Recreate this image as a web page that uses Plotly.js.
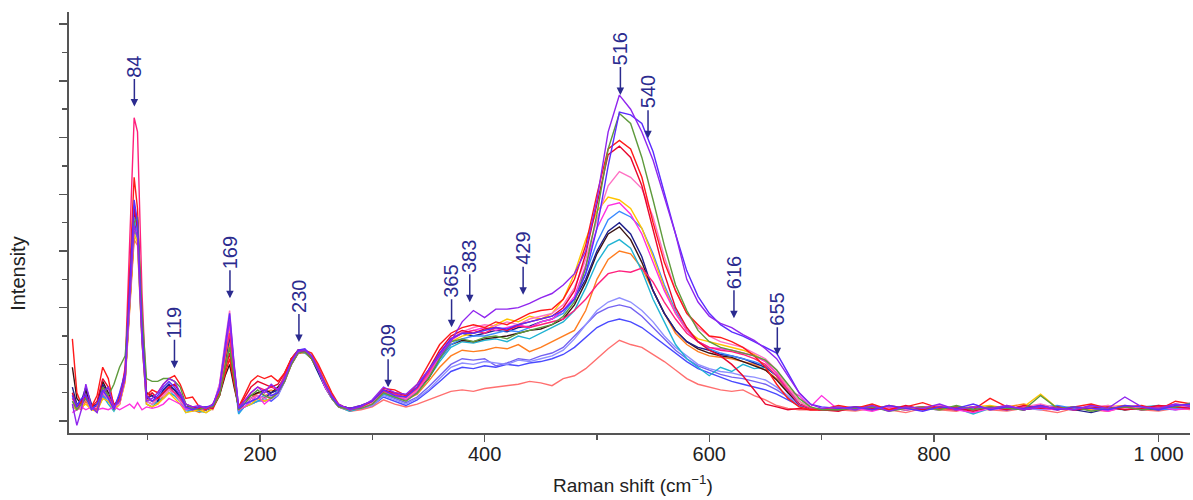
<!DOCTYPE html>
<html>
<head>
<meta charset="utf-8">
<script src="https://cdn.plot.ly/plotly-3.0.1.min.js"></script>
<style>html,body{margin:0;padding:0;background:#fff;}#chart{width:1193px;height:500px;}</style>
</head>
<body>
<div id="chart"></div>
<script>
// Raman shift grid (cm-1)
const ramanShift = [
 33,37,41,45,50,55,60,65,70,75,
 80,84,88,91,95,99,104,109,114,119,
 124,129,134,140,146,152,158,164,169,173,
 177,181,186,192,198,204,210,216,222,228,
 234,240,246,252,258,264,270,
 280,290,300,310,320,330,340,350,360,370,380,390,400,410,420,430,440,450,460,470,480,490,500,510,520,530,540,550,560,570,580,590,600,610,620,630,640,650,660,670,680,690,700,
 715,730,745,760,775,790,805,820,835,850,865,880,895,910,925,940,955,970,985,1000,1015,1030
];

// Intensities (arbitrary units), one array per spectrum
const salmon = [
 0.6,0.4,0.5,0.7,0.4,0.45,0.9,0.8,0.4,0.6,
 1.4,4.0,6.4,6.2,2.8,0.6,0.5,0.7,0.8,1.0,
 0.9,0.7,0.5,0.45,0.4,0.45,0.4,1.0,2.1,2.8,
 1.6,0.4,0.6,0.8,1.0,0.9,1.0,1.1,1.5,2.1,
 2.4,2.45,2.2,1.8,1.3,0.85,0.5,
 0.35,0.4,0.5,0.75,0.6,0.5,0.6,0.75,0.9,1.05,1.1,1.05,1.15,1.2,1.25,1.3,1.4,1.35,1.25,1.5,1.6,1.85,2.2,2.55,2.85,2.7,2.6,2.35,2.1,1.8,1.5,1.3,1.2,1.1,1.05,1.1,0.9,0.75,0.55,0.45,0.4,0.4,0.4,
 0.4,0.35,0.45,0.4,0.3,0.45,0.4,0.35,0.5,0.4,0.35,0.45,0.4,0.3,0.45,0.4,0.35,0.5,0.4,0.35,0.45,0.4
];
const royalBlue = [
 0.9,0.5,0.6,1.1,0.5,0.4,1.1,0.8,0.45,0.7,
 1.6,4.7,7.3,6.9,3.1,0.8,0.7,0.8,1.1,1.3,
 1.1,0.9,0.45,0.4,0.4,0.45,0.5,1.2,2.5,3.3,
 1.7,0.35,0.5,0.6,0.7,0.8,0.7,0.9,1.4,2.1,
 2.45,2.5,2.3,1.8,1.2,0.8,0.5,
 0.4,0.45,0.55,0.85,0.7,0.55,0.75,1.05,1.4,1.75,1.9,1.85,1.95,1.9,2.0,1.95,2.05,2.1,2.2,2.35,2.6,2.95,3.3,3.5,3.6,3.5,3.3,3.0,2.7,2.4,2.1,1.85,1.7,1.55,1.4,1.3,1.2,1.1,0.95,0.75,0.55,0.45,0.4,
 0.4,0.5,0.45,0.4,0.5,0.45,0.4,0.45,0.5,0.4,0.45,0.5,0.45,0.4,0.5,0.45,0.4,0.45,0.5,0.45,0.4,0.5
];
const slateBlue = [
 1.0,0.6,0.5,1.0,0.5,0.4,1.0,0.8,0.5,0.7,
 1.6,4.8,7.6,7.0,3.1,0.8,0.7,0.8,1.1,1.3,
 1.1,0.8,0.45,0.4,0.5,0.45,0.5,1.2,2.6,3.5,
 1.8,0.4,0.5,0.6,0.8,0.7,0.8,1.0,1.5,2.2,
 2.5,2.5,2.3,1.8,1.2,0.8,0.5,
 0.45,0.5,0.6,0.95,0.8,0.65,0.85,1.2,1.6,2.0,2.2,2.15,2.2,1.95,2.05,2.2,2.15,2.3,2.4,2.6,3.0,3.4,3.8,4.0,4.1,4.0,3.7,3.3,2.9,2.5,2.2,1.95,1.8,1.65,1.55,1.5,1.4,1.3,1.1,0.85,0.55,0.45,0.4,
 0.45,0.4,0.45,0.5,0.4,0.45,0.5,0.45,0.4,0.5,0.45,0.4,0.5,0.45,0.5,0.4,0.45,0.5,0.45,0.4,0.5,0.45
];
const lightSlate = [
 0.7,0.5,0.6,0.8,0.4,0.5,0.8,0.7,0.4,0.6,
 1.5,4.4,7.0,6.8,3.1,0.7,0.6,0.7,0.9,1.1,
 0.9,0.7,0.4,0.4,0.45,0.4,0.5,1.2,2.5,3.4,
 1.8,0.35,0.5,0.6,0.7,0.7,0.8,0.9,1.4,2.1,
 2.45,2.5,2.3,1.8,1.2,0.8,0.5,
 0.4,0.45,0.55,0.9,0.75,0.6,0.8,1.1,1.5,1.9,2.05,2.0,2.1,2.05,2.0,2.15,2.1,2.2,2.3,2.5,2.9,3.4,3.9,4.2,4.35,4.2,3.9,3.5,3.0,2.6,2.3,2.0,1.85,1.75,1.7,1.6,1.55,1.45,1.2,0.9,0.6,0.45,0.4,
 0.4,0.45,0.5,0.45,0.4,0.5,0.45,0.5,0.4,0.45,0.5,0.45,0.4,0.5,0.45,0.4,0.5,0.45,0.4,0.5,0.45,0.5
];
const orange = [
 0.6,0.5,0.4,0.7,0.45,0.4,0.8,0.9,0.4,0.6,
 1.5,4.1,6.5,6.8,3.3,0.8,0.7,0.6,0.9,1.1,
 1.0,0.8,0.5,0.4,0.3,0.4,0.45,0.9,1.9,2.7,
 1.5,0.4,0.6,0.8,1.0,1.0,1.1,1.0,1.4,2.0,
 2.4,2.4,2.3,1.9,1.4,0.9,0.5,
 0.4,0.45,0.6,1.0,0.9,0.75,0.95,1.4,1.9,2.3,2.5,2.45,2.5,2.6,2.55,2.7,2.45,2.6,2.8,3.0,3.2,3.9,5.0,5.7,6.0,5.9,5.4,4.6,3.8,3.1,2.7,2.45,2.3,2.25,2.2,2.1,2.0,1.8,1.5,1.05,0.6,0.45,0.4,
 0.5,0.45,0.55,0.4,0.5,0.45,0.4,0.5,0.45,0.4,0.5,0.6,0.45,0.5,0.4,0.45,0.5,0.55,0.45,0.5,0.45,0.55
];
const cyan = [
 0.5,0.4,0.6,0.8,0.4,0.45,0.9,0.6,0.35,0.7,
 1.5,4.3,6.9,6.4,2.9,0.6,0.5,0.7,0.8,1.0,
 0.9,0.7,0.3,0.4,0.35,0.3,0.45,1.1,2.2,3.0,
 1.6,0.25,0.5,0.6,0.7,0.8,0.9,1.0,1.4,2.1,
 2.45,2.4,2.2,1.7,1.2,0.8,0.5,
 0.35,0.45,0.6,0.95,0.85,0.75,1.0,1.5,2.1,2.6,2.8,2.75,2.85,2.9,2.8,3.0,2.9,3.1,3.3,3.5,3.9,4.7,5.6,6.2,6.4,6.1,5.3,4.3,3.5,2.7,2.2,1.9,1.6,1.9,1.75,2.0,1.85,1.9,1.6,1.1,0.6,0.45,0.4,
 0.4,0.45,0.4,0.5,0.45,0.4,0.5,0.45,0.25,0.45,0.5,0.4,0.55,0.45,0.4,0.5,0.45,0.4,0.5,0.55,0.45,0.5
];
const brown = [
 1.9,0.8,0.6,1.1,0.5,0.6,1.4,1.0,0.5,0.8,
 1.5,4.0,6.7,7.1,3.6,1.0,0.9,0.8,1.0,1.2,
 1.1,0.9,0.5,0.5,0.45,0.4,0.5,0.9,1.6,2.0,
 1.2,0.5,0.7,0.9,1.0,1.1,1.0,1.2,1.5,2.0,
 2.4,2.45,2.3,1.9,1.3,0.9,0.55,
 0.45,0.5,0.65,1.05,0.95,0.8,1.1,1.5,2.2,2.7,2.85,2.8,2.9,2.95,3.0,3.1,3.2,3.25,3.4,3.6,4.1,4.9,5.9,6.6,6.85,6.4,5.6,4.6,3.8,3.2,2.8,2.55,2.4,2.3,2.25,2.1,1.95,1.8,1.45,1.0,0.6,0.45,0.4,
 0.45,0.4,0.5,0.45,0.4,0.45,0.5,0.4,0.45,0.5,0.45,0.4,0.5,0.45,0.4,0.45,0.5,0.4,0.45,0.4,0.5,0.45
];
const navy = [
 1.2,0.6,0.7,1.2,0.6,0.5,1.3,0.9,0.5,0.9,
 1.6,4.6,7.4,6.9,3.0,0.8,0.9,0.7,1.1,1.3,
 1.1,0.8,0.5,0.45,0.5,0.4,0.5,1.0,2.1,3.0,
 1.7,0.4,0.6,0.8,0.9,0.8,1.0,1.1,1.6,2.2,
 2.5,2.5,2.2,1.7,1.2,0.8,0.55,
 0.45,0.5,0.7,1.05,0.95,0.8,1.1,1.6,2.3,2.9,3.1,3.0,3.1,3.2,3.15,3.3,3.35,3.5,3.6,3.9,4.3,5.0,6.0,6.7,7.0,6.6,5.8,4.6,3.8,3.2,2.8,2.6,2.5,2.35,2.3,2.2,2.05,1.9,1.6,1.1,0.6,0.45,0.4,
 0.4,0.45,0.5,0.4,0.45,0.5,0.45,0.4,0.5,0.45,0.4,0.5,0.45,0.5,0.4,0.3,0.45,0.5,0.4,0.45,0.5,0.45
];
const dodger = [
 0.8,0.6,0.5,0.9,0.5,0.4,0.9,0.7,0.45,0.8,
 1.6,4.5,7.2,6.6,3.0,0.7,0.6,0.8,1.0,1.2,
 1.0,0.8,0.4,0.35,0.45,0.4,0.5,1.2,2.7,3.7,
 1.9,0.3,0.5,0.7,0.8,0.9,0.8,1.1,1.5,2.2,
 2.5,2.45,2.25,1.8,1.2,0.85,0.5,
 0.4,0.5,0.65,1.0,0.9,0.8,1.1,1.6,2.2,2.7,2.9,3.0,3.0,3.1,3.2,3.15,3.3,3.5,3.6,3.8,4.3,5.2,6.3,7.1,7.4,7.2,6.8,5.9,4.8,3.9,3.2,2.8,2.55,2.4,2.3,2.2,2.1,1.95,1.6,1.1,0.7,0.45,0.4,
 0.45,0.5,0.45,0.4,0.5,0.45,0.4,0.5,0.45,0.5,0.4,0.45,0.5,0.55,0.45,0.4,0.5,0.45,0.5,0.4,0.45,0.5
];
const gold = [
 0.5,0.4,0.5,0.6,0.4,0.35,0.8,0.7,0.4,0.6,
 1.4,4.0,6.6,6.3,2.8,0.6,0.5,0.6,0.8,1.0,
 0.8,0.6,0.3,0.35,0.4,0.3,0.45,1.0,2.3,3.2,
 1.6,0.4,0.5,0.6,0.8,0.7,0.8,1.0,1.5,2.1,
 2.4,2.45,2.2,1.8,1.3,0.8,0.5,
 0.4,0.5,0.6,1.0,0.9,0.8,1.1,1.6,2.3,2.8,3.0,3.1,3.2,3.4,3.6,3.5,3.7,3.6,3.8,4.3,5.2,6.4,7.4,7.9,7.8,7.5,6.8,5.8,4.7,3.8,3.2,2.9,2.8,2.7,2.6,2.5,2.35,2.1,1.7,1.2,0.7,0.45,0.4,
 0.5,0.45,0.4,0.55,0.45,0.5,0.4,0.45,0.5,0.55,0.45,0.5,0.95,0.45,0.5,0.4,0.55,0.45,0.5,0.45,0.5,0.55
];
const magenta = [
 0.3,0.4,0.5,0.4,0.5,0.4,0.45,0.4,0.5,0.4,
 0.5,0.6,0.45,0.65,0.4,0.5,0.45,0.5,0.6,0.8,
 0.7,0.6,0.4,0.5,0.4,0.45,0.5,1.3,2.6,3.4,
 1.8,0.4,0.5,0.7,0.9,0.6,0.8,1.0,1.4,2.0,
 2.4,2.45,2.3,1.8,1.2,0.8,0.5,
 0.4,0.45,0.6,1.0,0.9,0.75,1.05,1.6,2.3,2.85,3.1,3.2,3.3,3.2,3.3,3.4,3.3,3.5,3.6,3.9,4.4,5.5,6.8,7.6,7.7,7.3,6.6,5.6,4.6,3.8,3.2,2.8,2.6,2.55,2.5,2.4,2.3,2.1,1.7,1.1,0.9,0.5,0.9,
 0.4,0.45,0.35,0.5,0.4,0.45,0.5,0.4,0.3,0.45,0.4,0.5,0.45,0.4,0.5,0.45,0.35,0.5,0.45,0.5,0.4,0.45
];
const pink = [
 0.6,0.5,0.5,0.8,0.4,0.5,1.0,0.8,0.5,0.6,
 1.5,4.0,6.8,6.6,3.0,0.7,0.6,0.8,0.9,1.1,
 1.0,0.7,0.5,0.4,0.45,0.5,0.5,1.3,2.8,3.9,
 2.0,0.5,0.6,0.8,0.9,0.8,0.9,1.0,1.5,2.1,
 2.5,2.5,2.3,1.9,1.3,0.9,0.6,
 0.4,0.45,0.65,1.05,0.95,0.8,1.1,1.7,2.4,2.9,3.15,3.3,3.4,3.35,3.5,3.4,3.6,3.7,3.8,4.1,4.7,5.7,7.1,8.3,8.8,8.6,8.2,7.2,5.8,4.6,3.8,3.3,3.0,2.8,2.7,2.6,2.4,2.2,1.8,1.2,0.7,0.45,0.4,
 0.45,0.4,0.5,0.45,0.4,0.5,0.55,0.45,0.5,0.4,0.45,0.5,0.6,0.45,0.4,0.5,0.55,0.45,0.4,0.5,0.55,0.5
];
const deepPink = [
 0.8,0.5,0.6,0.9,0.5,0.4,1.2,0.9,0.5,0.7,
 1.9,6.0,10.7,10.2,4.5,0.9,0.7,0.8,1.0,1.2,
 1.0,0.8,0.5,0.4,0.45,0.5,0.45,1.1,2.3,3.1,
 1.7,0.4,0.7,1.0,1.2,1.1,1.2,1.1,1.6,2.2,
 2.5,2.5,2.3,1.9,1.3,0.9,0.55,
 0.4,0.5,0.7,1.05,0.95,0.85,1.15,1.7,2.4,2.9,3.1,3.2,3.1,3.3,3.2,3.35,3.3,3.4,3.5,3.6,3.9,4.3,4.8,5.2,5.3,5.25,5.4,4.9,4.2,3.6,3.1,2.8,2.6,2.5,2.45,2.35,2.2,2.0,1.6,1.1,0.6,0.45,0.4,
 0.45,0.5,0.4,0.55,0.45,0.5,0.45,0.4,0.5,0.45,0.55,0.4,0.5,0.45,0.4,0.55,0.45,0.5,0.4,0.5,0.6,0.55
];
const crimson = [
 1.0,0.5,0.7,0.9,0.5,0.7,1.5,1.2,0.6,0.7,
 1.6,5.0,7.5,6.8,3.0,0.8,1.0,0.8,1.0,1.2,
 1.3,1.0,0.6,0.5,0.45,0.5,0.45,0.9,1.8,2.4,
 1.4,0.5,0.8,1.2,1.4,1.3,1.2,1.3,1.7,2.2,
 2.45,2.45,2.2,1.8,1.3,0.9,0.55,
 0.45,0.55,0.7,1.1,1.0,0.9,1.2,1.8,2.5,3.0,3.2,3.1,3.25,3.3,3.2,3.4,3.5,3.6,3.7,4.0,4.6,5.9,7.7,9.4,9.7,9.3,8.3,6.8,5.2,4.0,3.3,2.8,2.5,2.3,2.0,1.6,1.1,0.6,0.5,0.4,0.45,0.4,0.4,
 0.35,0.5,0.45,0.4,0.55,0.4,0.5,0.45,0.35,0.5,0.4,0.55,0.45,0.5,0.4,0.45,0.5,0.4,0.45,0.55,0.5,0.45
];
const red = [
 2.9,1.0,0.6,0.8,0.5,0.9,1.9,1.5,0.5,0.8,
 1.8,5.5,8.6,7.5,3.2,0.9,1.1,1.0,1.3,1.5,
 1.6,1.3,0.8,0.85,0.5,0.4,0.6,1.0,1.7,2.2,
 1.3,0.5,0.9,1.4,1.6,1.5,1.6,1.4,1.7,2.2,
 2.5,2.5,2.4,2.0,1.5,1.0,0.6,
 0.4,0.5,0.7,1.15,1.1,0.9,1.3,2.0,2.7,3.1,3.3,3.4,3.3,3.5,3.4,3.6,3.8,3.9,3.95,4.3,5.0,6.2,8.0,9.6,9.9,9.6,8.6,7.0,5.6,4.6,3.8,3.4,3.0,2.95,2.8,2.6,2.3,1.9,1.3,0.8,0.5,0.4,0.4,
 0.55,0.45,0.6,0.4,0.5,0.65,0.45,0.5,0.4,0.8,0.5,0.45,0.55,0.4,0.5,0.6,0.45,0.5,0.55,0.4,0.7,0.6
];
const green = [
 0.7,0.4,0.6,0.8,0.5,0.3,1.2,0.9,1.3,1.9,
 2.3,4.4,7.0,7.2,3.8,1.5,1.4,1.4,1.5,1.5,
 1.4,1.2,0.6,0.45,0.4,0.5,0.5,0.9,1.9,2.6,
 1.5,0.4,0.6,0.9,1.1,0.9,0.8,1.0,1.4,2.0,
 2.4,2.45,2.2,1.8,1.3,0.8,0.5,
 0.4,0.45,0.6,1.0,0.85,0.7,1.0,1.5,2.2,2.8,2.9,2.8,2.95,3.0,2.9,3.1,3.2,3.3,3.4,3.7,4.2,5.4,7.3,9.6,10.85,10.5,9.3,7.8,6.2,4.8,3.9,3.2,2.8,2.6,2.5,2.4,2.3,2.15,1.8,1.3,0.8,0.5,0.4,
 0.4,0.45,0.5,0.35,0.45,0.5,0.4,0.55,0.4,0.5,0.45,0.4,0.9,0.45,0.5,0.35,0.45,0.5,0.4,0.45,0.5,0.65
];
const blueViolet = [
 0.9,0.5,0.8,0.9,0.4,0.6,1.1,0.8,0.4,1.0,
 1.7,5.0,7.8,7.0,3.2,0.9,0.7,0.9,1.2,1.4,
 1.2,0.9,0.5,0.4,0.5,0.5,0.55,1.2,2.6,3.8,
 2.0,0.45,0.6,0.7,0.8,1.1,0.9,1.0,1.5,2.1,
 2.5,2.55,2.3,1.8,1.3,0.85,0.55,
 0.45,0.55,0.7,1.1,0.9,0.85,1.2,1.8,2.4,2.9,3.1,3.1,3.2,3.3,3.25,3.4,3.5,3.6,3.7,3.9,4.3,5.2,6.8,9.0,10.9,10.8,10.5,9.5,8.0,6.6,5.3,4.4,3.8,3.4,3.15,3.0,2.8,2.6,2.4,1.7,1.0,0.6,0.5,
 0.45,0.5,0.4,0.55,0.45,0.35,0.5,0.45,0.6,0.4,0.5,0.45,0.55,0.4,0.5,0.45,0.4,0.55,0.5,0.4,0.55,0.6
];
const violet = [
 0.6,-0.15,0.4,1.3,0.5,0.3,1.0,1.2,0.5,0.7,
 1.5,4.2,6.9,6.5,2.8,0.7,0.8,1.0,1.3,1.5,
 1.4,1.0,0.6,0.5,0.55,0.45,0.6,1.1,2.5,3.6,
 1.9,0.5,0.7,1.0,1.2,1.0,1.3,1.1,1.5,2.1,
 2.45,2.5,2.3,1.8,1.3,0.9,0.6,
 0.4,0.5,0.75,1.2,1.0,0.95,1.3,1.8,2.3,2.8,3.5,3.9,3.65,3.95,3.95,4.0,4.15,4.35,4.5,4.8,5.2,6.0,7.8,10.2,11.5,11.0,10.2,9.2,7.9,6.6,5.0,4.2,3.7,3.45,3.3,3.05,2.85,2.55,2.2,1.6,1.0,0.6,0.45,
 0.5,0.4,0.55,0.35,0.5,0.45,0.6,0.4,0.5,0.45,0.55,0.4,0.5,0.45,0.4,0.55,0.45,0.85,0.5,0.45,0.6,0.5
];

// Peak labels (annotation text) and the points their arrows mark
const peakLabels = ['84','119','169','230','309','365','383','429','516','540','616','655'];
const peakX = [88.2,123.9,173.3,234.7,314.1,370.6,386.8,434.3,520.9,545.5,622.0,660.6];
const peakY = [11.1,1.86,4.33,2.79,1.19,3.31,4.19,4.46,11.5,9.98,3.63,2.32];

const seriesList = [
  [salmon,'#ff6f6f'],[royalBlue,'#4a4aff'],[slateBlue,'#7462f2'],[lightSlate,'#8f8fff'],
  [orange,'#ff7d1f'],[cyan,'#20b3d3'],[brown,'#3a1414'],[navy,'#1f1f8c'],[dodger,'#3a8aff'],
  [gold,'#ffc400'],[magenta,'#ff30e0'],[pink,'#ff72c4'],[deepPink,'#ff1f7c'],[crimson,'#e8062e'],
  [red,'#ff1a1a'],[green,'#5e9a3c'],[blueViolet,'#5a2cff'],[violet,'#9026ee']
];

const traces = seriesList.map(([ys,col]) => {
  if (ys.length !== ramanShift.length) console.error('length mismatch', col, ys.length);
  return {x: ramanShift, y: ys, type:'scatter', mode:'lines',
          line:{color:col, width:1.4}, hoverinfo:'skip'};
});

const navyText = '#2b2b8f';
const font = 'Liberation Sans, Arial, Helvetica, sans-serif';
const annotations = peakLabels.map((t,i) => ({
  x: peakX[i], y: peakY[i], xref:'x', yref:'y', text: t, textangle: -90,
  showarrow: true, arrowhead: 2, arrowsize: 1, arrowwidth: 1.5, arrowcolor: navyText,
  ax: 0, ay: t.length === 2 ? -40 : -46,
  font: {family: font, size: 20, color: navyText}
}));
annotations.push({
  xref:'paper', yref:'paper', x:-0.0455, y:0.378, text:'Intensity', textangle:-90,
  showarrow:false, xanchor:'center', yanchor:'middle',
  font:{family:font, size:20, color:'#222'}
});
annotations.push({
  xref:'paper', yref:'paper', x:0.503, y:-0.122, text:'Raman shift (cm<sup>−1</sup>)',
  showarrow:false, xanchor:'center', yanchor:'middle',
  font:{family:font, size:19, color:'#222'}
});

const layout = {
  width:1193, height:500,
  margin:{l:69, r:3, t:12, b:67},
  paper_bgcolor:'#ffffff', plot_bgcolor:'#ffffff',
  showlegend:false,
  xaxis:{
    range:[30,1028], showline:true, linecolor:'#555', linewidth:2,
    ticks:'outside', ticklen:7, tickwidth:1.5, tickcolor:'#555',
    tickvals:[200,400,600,800,1000], ticktext:['200','400','600','800','1 000'],
    ticklabelstandoff:-5,
    minor:{tickvals:[100,300,500,700,900], ticks:'outside', ticklen:5, tickwidth:1.5, tickcolor:'#555'},
    showgrid:false, zeroline:false,
    tickfont:{family:font, size:20, color:'#222'}
  },
  yaxis:{
    range:[-0.42,14.43], showline:true, linecolor:'#555', linewidth:2,
    ticks:'outside', ticklen:8, tickwidth:1.5, tickcolor:'#555',
    tickmode:'linear', tick0:0, dtick:2, showticklabels:false,
    minor:{tickmode:'linear', tick0:1, dtick:2, ticks:'outside', ticklen:5, tickwidth:1.5, tickcolor:'#555'},
    showgrid:false, zeroline:false
  },
  annotations: annotations
};

Plotly.newPlot('chart', traces, layout, {displayModeBar:false, staticPlot:true});
</script>
</body>
</html>
